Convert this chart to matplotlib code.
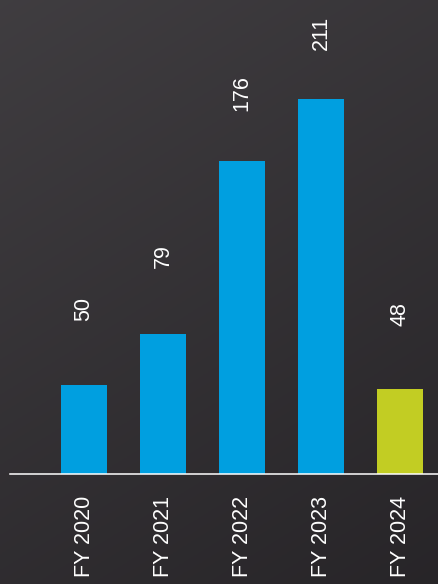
import numpy as np
import matplotlib.pyplot as plt

years = ['FY 2020', 'FY 2021', 'FY 2022', 'FY 2023', 'FY 2024']
values = [50, 79, 176, 211, 48]
bar_colors = ['#009fe0', '#009fe0', '#009fe0', '#009fe0', '#c2cd23']
label_offsets = [46, 47, 36, 35, 45]  # points above each bar

fig = plt.figure(figsize=(4.38, 5.84), dpi=100)

# dark gradient background
bg = fig.add_axes([0, 0, 1, 1], zorder=0)
yy, xx = np.mgrid[0:1:200j, 0:1:200j]
shade = 0.245 - 0.065 * yy - 0.03 * xx
rgb = np.dstack([shade + 0.005, shade - 0.005, shade + 0.008])
bg.imshow(np.clip(rgb, 0, 1), aspect='auto', extent=[0, 1, 0, 1], origin='upper')
bg.axis('off')

ax = fig.add_axes([10 / 438, 110 / 584, 428 / 438, 474 / 584], zorder=1)
ax.patch.set_alpha(0)

x = np.arange(len(years))
bars = ax.bar(x, values, width=0.58, color=bar_colors)

for xi, v, off in zip(x, values, label_offsets):
    ax.annotate(str(v), (xi, v), xytext=(0, off), textcoords='offset points',
                rotation=90, ha='center', va='bottom', color='white',
                fontsize=15.5, family='Liberation Sans')

ax.set_xlim(-0.937, 4.481)
ax.set_ylim(0, 266.7)
ax.set_xticks(x)
ax.set_xticklabels(years, rotation=90, color='white', fontsize=15.5,
                   family='Liberation Sans')
ax.tick_params(axis='x', length=0, pad=16)
ax.set_yticks([])
for s in ['top', 'left', 'right']:
    ax.spines[s].set_visible(False)
ax.spines['bottom'].set_color('white')
ax.spines['bottom'].set_linewidth(1.1)

fig.savefig('out.png', dpi=100)
